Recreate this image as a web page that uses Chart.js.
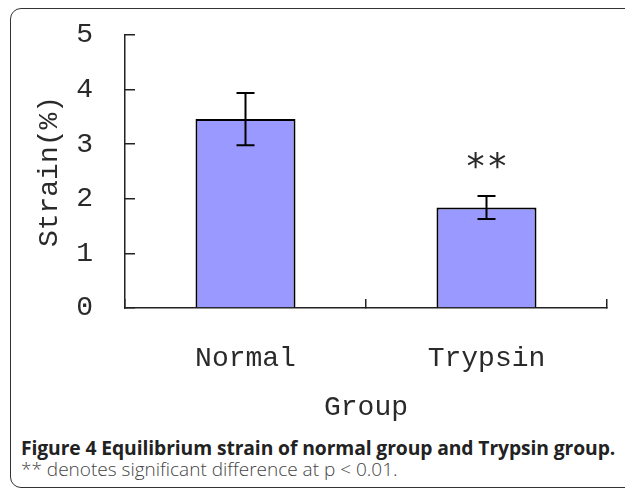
<!DOCTYPE html>
<html lang="en">
<head>
<meta charset="UTF-8" />
<title>Equilibrium strain</title>
<script src="https://cdn.jsdelivr.net/npm/chart.js"></script>
<style>
  html, body { margin: 0; padding: 0; background: #fff; }
  body { width: 625px; height: 492px; position: relative; overflow: hidden; }
  .frame {
    position: absolute; left: 10px; top: 8px; width: 640px; height: 480px;
    border: 1.5px solid #333; border-radius: 11px; box-sizing: border-box;
  }
  .chart-box { position: absolute; left: 0; top: 0; width: 625px; height: 430px; }
  .caption {
    position: absolute; left: 21px; top: 437px; width: 600px;
    font-family: "Open Sans", sans-serif; color: #222; white-space: nowrap;
  }
  .caption .title { font-weight: bold; font-size: 19.3px; line-height: 22px; letter-spacing: -0.1px; }
  .caption .note { font-size: 19px; line-height: 21px; color: #444; font-weight: 300; }
</style>
</head>
<body>
<div class="frame"></div>
<div class="chart-box"><canvas id="chart" width="625" height="430"></canvas></div>
<div class="caption">
  <div class="title">Figure 4 Equilibrium strain of normal group and Trypsin group.</div>
  <div class="note">** denotes significant difference at p &lt; 0.01.</div>
</div>
<script>
  // values
  const groups = ['Normal', 'Trypsin'];
  const strainMean = [3.46, 1.84];
  const strainErr = [0.48, 0.21];
  const marks = ['', '**'];
  const yTicks = [0, 1, 2, 3, 4, 5];

  const monoFont = { family: '"Liberation Mono", monospace', size: 28 };
  const textColor = '#2a2a2a';

  // error bars + significance marks
  const errorBars = {
    id: 'errorBars',
    afterDatasetsDraw(chart) {
      const ctx = chart.ctx;
      const y = chart.scales.y;
      const meta = chart.getDatasetMeta(0);
      ctx.save();
      ctx.strokeStyle = '#000';
      ctx.lineWidth = 2;
      meta.data.forEach((bar, i) => {
        const top = y.getPixelForValue(strainMean[i] + strainErr[i]);
        const bot = y.getPixelForValue(strainMean[i] - strainErr[i]);
        ctx.beginPath();
        ctx.moveTo(bar.x, top); ctx.lineTo(bar.x, bot);
        ctx.moveTo(bar.x - 9, top); ctx.lineTo(bar.x + 9, top);
        ctx.moveTo(bar.x - 9, bot); ctx.lineTo(bar.x + 9, bot);
        ctx.stroke();
        if (marks[i]) {
          ctx.fillStyle = textColor;
          ctx.font = '36px "DejaVu Sans Mono", monospace';
          ctx.textAlign = 'center';
          ctx.textBaseline = 'middle';
          ctx.fillText(marks[i], bar.x, top - 27);
        }
      });
      ctx.restore();
    }
  };

  new Chart(document.getElementById('chart').getContext('2d'), {
    type: 'bar',
    data: {
      labels: groups,
      datasets: [{
        data: strainMean,
        backgroundColor: '#9999ff',
        borderColor: '#000',
        borderWidth: 2,
        categoryPercentage: 1,
        barPercentage: 0.415
      }]
    },
    options: {
      responsive: false,
      animation: false,
      devicePixelRatio: 1,
      layout: { padding: { left: 0, top: 35, right: 18, bottom: 0 } },
      plugins: { legend: { display: false }, tooltip: { enabled: false } },
      scales: {
        x: {
          offset: true,
          grid: { offset: true, drawOnChartArea: false, drawTicks: true, tickLength: -9, color: '#222', lineWidth: 1.5 },
          border: { color: '#222', width: 1.5 },
          ticks: { font: monoFont, color: textColor, padding: 43 },
          title: { display: true, text: 'Group', font: monoFont, color: textColor, padding: { top: 0, bottom: 6 } },
          afterFit(scale) { scale.height = 122; }
        },
        y: {
          min: 0, max: 5,
          afterBuildTicks(scale) { scale.ticks = yTicks.map(v => ({ value: v })); },
          grid: { drawOnChartArea: false, drawTicks: true, tickLength: -10, color: '#222', lineWidth: 1.5 },
          border: { color: '#222', width: 1.5 },
          ticks: { font: monoFont, color: textColor, padding: 42 },
          title: { display: true, text: 'Strain(%)', font: monoFont, color: textColor, padding: { top: 33, bottom: 0 } },
          afterFit(scale) {
            scale.width = 125;
            // keep the big tick padding from pushing the plot down
            scale.paddingTop = 0;
            scale.paddingBottom = 0;
          }
        }
      }
    },
    plugins: [errorBars]
  });
</script>
</body>
</html>
